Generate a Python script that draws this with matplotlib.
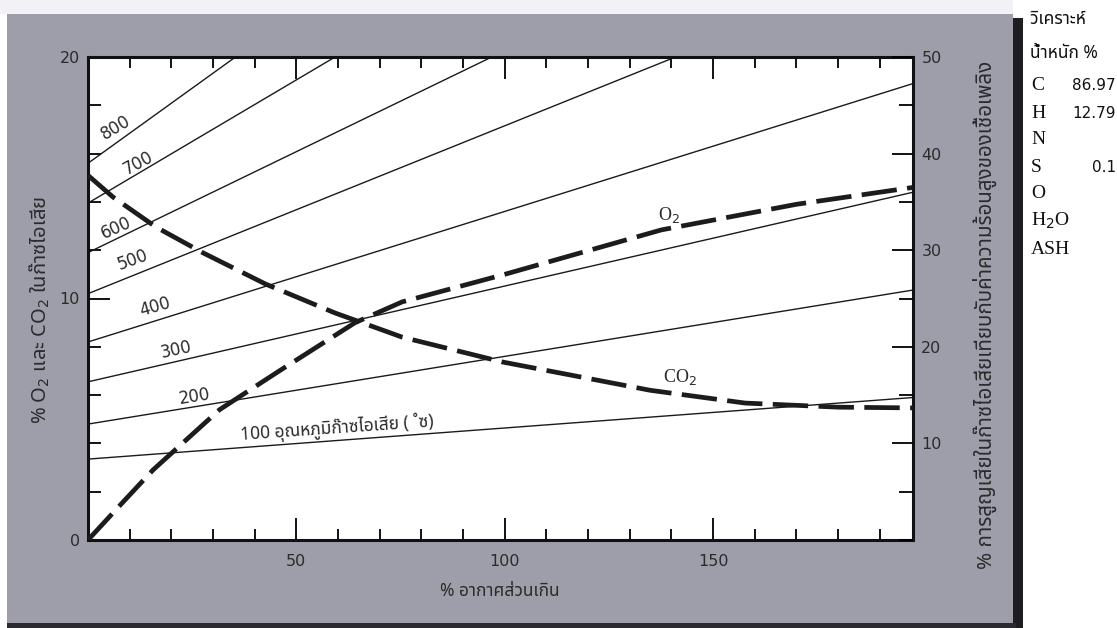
import matplotlib
matplotlib.use("Agg")
import matplotlib.pyplot as plt
from matplotlib import font_manager
from matplotlib.ft2font import FT2Font
from matplotlib.patches import Rectangle
from matplotlib.ticker import MultipleLocator

# ---------------- data ----------------
excess_air_o2 = [0, 8.4, 15.6, 31.6, 45.9, 64.1, 75.4, 100, 137.6, 170, 198]
o2_pct = [0, 1.57, 2.9, 5.4, 7.0, 9.0, 9.86, 11.0, 12.84, 13.9, 14.6]

excess_air_co2 = [0, 6.0, 16.3, 27.5, 42.6, 59.3, 75.4, 99.5, 134.9, 157.7, 180, 198]
co2_pct = [15.1, 14.2, 12.96, 11.9, 10.6, 9.4, 8.4, 7.37, 6.2, 5.67, 5.5, 5.47]

temp_labels = [100, 200, 300, 400, 500, 600, 700, 800]
temp_y_start = [3.35, 4.8, 6.55, 8.2, 10.2, 11.9, 13.95, 15.6]
temp_x_end = [198, 198, 198, 198, 141, 96.9, 59.3, 35.4]
temp_y_end = [5.9, 10.35, 14.4, 18.9, 20, 20, 20, 20]

x_ticks = [50, 100, 150]
left_ticks = [0, 10, 20]
right_ticks = [10, 20, 30, 40, 50]

fuel_items = ["C", "H", "N", "S", "O", "H$_2$O", "ASH"]
fuel_values = ["86.97", "12.79", "", "0.1", "", "", ""]

# ---------------- fonts ----------------
def find_thai_font():
    pref = ['Noto Sans Thai', 'Noto Sans Thai UI', 'Noto Sans Thai Looped', 'Sarabun',
            'Loma', 'Garuda', 'Norasi', 'Kinnari', 'Waree', 'Umpush', 'Laksaman',
            'Tlwg Typo', 'Sawasdee', 'Purisa']
    found = {}
    for f in font_manager.fontManager.ttflist:
        try:
            cmap = FT2Font(f.fname).get_charmap()
        except Exception:
            continue
        if 0x0E01 in cmap and 0x0E40 in cmap and 0x0E2D in cmap:
            found.setdefault(f.name, f.fname)
    for p in pref:
        if p in found:
            return p
    return next(iter(found), None)

thai = find_thai_font()
THAI = [thai, 'DejaVu Sans'] if thai else ['DejaVu Sans']
plt.rcParams['font.family'] = ['DejaVu Sans']

TXT = '#2b2b2b'
GRAY = '#9e9eaa'

W, H = 1117, 628
fig = plt.figure(figsize=(W / 100, H / 100), dpi=100)
fig.patch.set_facecolor('white')

def fx(px):
    return px / W

def fy(py):
    return 1 - py / H

# background panels
fig.patches.append(Rectangle((0, fy(14)), fx(1013), 1, transform=fig.transFigure,
                             facecolor='#f2f2f6', edgecolor='none', zorder=-3))
fig.patches.append(Rectangle((fx(7), 0), fx(1013 - 7), fy(14), transform=fig.transFigure,
                             facecolor=GRAY, edgecolor='none', zorder=-2))
fig.patches.append(Rectangle((fx(1013), 0), fx(10), fy(18), transform=fig.transFigure,
                             facecolor='#1e1e22', edgecolor='none', zorder=-2))
fig.patches.append(Rectangle((fx(7), 0), fx(1016 - 7), fy(623), transform=fig.transFigure,
                             facecolor='#2a2a30', edgecolor='none', zorder=-1))

ax = fig.add_axes([fx(88), fy(540), fx(913 - 88), fy(57) - fy(540)])
ax.set_facecolor('white')
ax.set_xlim(0, 198)
ax.set_ylim(0, 20)

# temperature lines
for t, y0, xe, ye in zip(temp_labels, temp_y_start, temp_x_end, temp_y_end):
    ax.plot([0, xe], [y0, ye], color='#1a1a1a', lw=1.0, solid_capstyle='butt', zorder=2)

# O2 and CO2 curves
ax.plot(excess_air_o2, o2_pct, color='#1c1c1c', lw=3.4, dashes=(7.5, 2.2),
        solid_capstyle='butt', dash_capstyle='butt', zorder=3)
ax.plot(excess_air_co2, co2_pct, color='#1c1c1c', lw=3.4, dashes=(7.5, 2.2),
        solid_capstyle='butt', dash_capstyle='butt', zorder=3)

# temperature labels
lab_pos = {800: (6.7, 17.06, 31), 700: (12.0, 15.6, 28), 600: (6.7, 12.9, 24),
           500: (10.8, 11.6, 20), 400: (16.0, 9.65, 16), 300: (21.1, 7.87, 12),
           200: (25.6, 5.92, 9)}
for t in temp_labels[1:]:
    x, y, r = lab_pos[t]
    ax.text(x, y, str(t), fontsize=12, color=TXT, rotation=r, ha='center', va='center',
            rotation_mode='anchor')
ax.text(59.8, 4.64, "100 อุณหภูมิก๊าซไอเสีย ( ˚ซ)", fontsize=12.5, color=TXT, rotation=4,
        ha='center', va='center', rotation_mode='anchor', family=THAI)

ax.text(139.5, 13.45, "O$_2$", fontsize=13, color=TXT, family='Liberation Serif',
        ha='center', va='center')
ax.text(142, 6.75, "CO$_2$", fontsize=13, color=TXT, family='Liberation Serif',
        ha='center', va='center')

# axes styling
for s in ax.spines.values():
    s.set_linewidth(2.2)
    s.set_color('#111111')
ax.set_xticks(x_ticks)
ax.set_xticklabels([str(v) for v in x_ticks])
ax.xaxis.set_minor_locator(MultipleLocator(10))
ax.set_yticks(left_ticks)
ax.set_yticklabels([str(v) for v in left_ticks])
ax.yaxis.set_minor_locator(MultipleLocator(2))
ax.tick_params(axis='x', which='major', direction='in', length=16, width=1.3,
               top=True, bottom=True, labelsize=11.5, labelcolor=TXT, pad=10)
ax.tick_params(axis='x', which='minor', direction='in', length=8, width=1.3,
               top=True, bottom=True)
ax.tick_params(axis='y', which='major', direction='in', length=16, width=1.3,
               labelsize=11.5, labelcolor=TXT, pad=6)
ax.tick_params(axis='y', which='minor', direction='in', length=9, width=1.3)

ax2 = ax.twinx()
ax2.set_ylim(0, 50)
ax2.set_yticks(right_ticks)
ax2.set_yticklabels([str(v) for v in right_ticks])
ax2.yaxis.set_minor_locator(MultipleLocator(5))
ax2.tick_params(axis='y', which='major', direction='in', length=15, width=1.3,
                labelsize=11.5, labelcolor=TXT, pad=6)
ax2.tick_params(axis='y', which='minor', direction='in', length=10, width=1.3)
for s in ax2.spines.values():
    s.set_visible(False)

# axis titles
fig.text(fx(40), fy(310), "% O$_2$ และ CO$_2$ ในก๊าซไอเสีย", rotation=90, fontsize=14.5,
         color=TXT, ha='center', va='center', family=THAI)
fig.text(fx(985), fy(315), "% การสูญเสียในก๊าซไอเสียเทียบกับค่าความร้อนสูงของเชื้อเพลิง",
         rotation=90, fontsize=14.8, color=TXT, ha='center', va='center', family=THAI)
fig.text(fx(500), fy(591), "% อากาศส่วนเกิน", fontsize=12.5, color=TXT,
         ha='center', va='center', family=THAI)

# right-side fuel analysis table
fig.text(fx(1030), fy(19), "วิเคราะห์", fontsize=12.5, color='#111111', ha='left',
         va='center', family=THAI)
fig.text(fx(1030), fy(53), "น้ำหนัก %", fontsize=12.5, color='#111111', ha='left',
         va='center', family=THAI)
row_y = [86, 113, 140, 167, 194, 221, 250]
for name, val, py in zip(fuel_items, fuel_values, row_y):
    fig.text(fx(1031), fy(py), name, fontsize=14, color='#111111', ha='left',
             va='center', family='Liberation Serif')
    if val:
        fig.text(fx(1116), fy(py), val, fontsize=11, color='#111111', ha='right',
                 va='center')

fig.savefig('out.png', dpi=100, facecolor=fig.get_facecolor())
